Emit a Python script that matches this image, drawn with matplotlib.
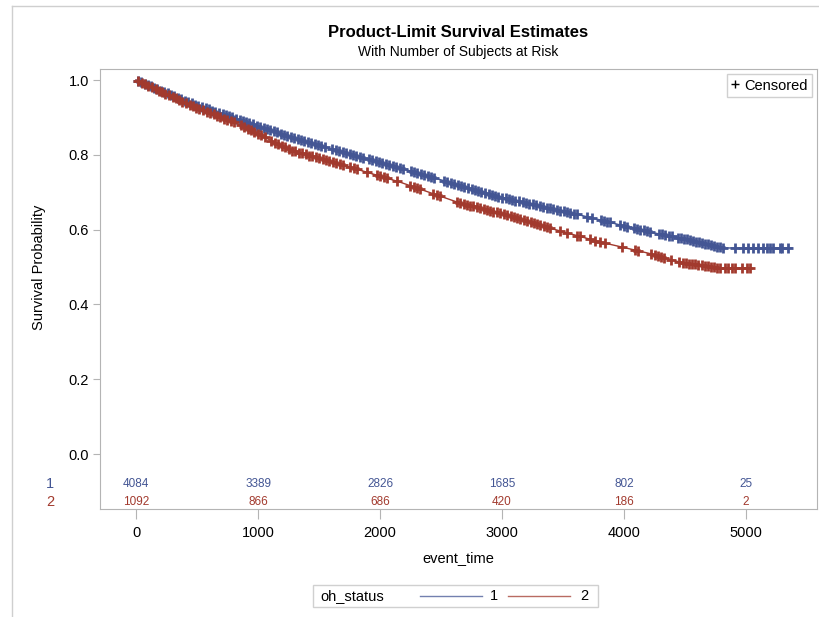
import numpy as np
import matplotlib
matplotlib.use("Agg")
import matplotlib.pyplot as plt
from matplotlib.lines import Line2D
from matplotlib.patches import Rectangle

plt.rcParams['font.family'] = ['Liberation Sans', 'DejaVu Sans']

# survival curve knots
blue_t = [0, 443, 852, 1262, 1754, 2164, 2574, 2984, 3311, 3639, 3803, 4000, 4250, 4459, 4811, 5377]
blue_s = [1.0, 0.939, 0.893, 0.848, 0.802, 0.765, 0.726, 0.687, 0.663, 0.639, 0.626, 0.610, 0.591, 0.578, 0.551, 0.551]
red_t = [0, 443, 852, 1262, 1754, 2164, 2656, 2984, 3393, 3803, 4200, 4459, 4787, 5033]
red_s = [1.0, 0.933, 0.880, 0.813, 0.767, 0.727, 0.671, 0.644, 0.604, 0.567, 0.537, 0.513, 0.497, 0.497]

# censoring times (approximate, read from the marks)
blue_cens = [
    15, 40, 70, 95, 120, 150, 175, 205, 230, 260, 290, 315, 345, 370, 400, 430, 455, 485, 510, 540,
    570, 595, 625, 650, 680, 710, 735, 765, 790, 820, 850, 875, 905, 930, 960, 990, 1015, 1045, 1070,
    1100, 1130, 1155, 1185, 1210, 1240, 1270, 1295, 1325, 1350, 1380, 1410, 1435, 1465, 1490, 1520,
    1545, 1610, 1640, 1665, 1695, 1720, 1750, 1780, 1805, 1835, 1860, 1910, 1935, 1965, 1990, 2020,
    2050, 2075, 2105, 2130, 2160, 2190, 2250, 2280, 2305, 2335, 2360, 2390, 2420, 2445, 2525, 2550,
    2580, 2610, 2635, 2665, 2690, 2720, 2750, 2775, 2805, 2830, 2860, 2890, 2915, 2945, 2970, 3000,
    3030, 3055, 3085, 3110, 3140, 3170, 3195, 3225, 3250, 3280, 3310, 3335, 3365, 3390, 3420, 3450,
    3475, 3505, 3530, 3560, 3590, 3615, 3700, 3740,
    3810, 3835, 3860, 3885, 3970, 4000, 4025, 4080, 4105, 4130, 4160, 4185, 4210, 4285, 4310, 4335,
    4365, 4390, 4445,
    4465, 4490, 4515, 4540, 4565, 4590, 4615, 4640, 4665, 4690, 4715, 4740, 4765, 4790, 4810,
    4910, 4975, 5016, 5057, 5098, 5139, 5172, 5197, 5221, 5279, 5295, 5344]
red_cens = [
    20, 45, 75, 100, 130, 160, 185, 215, 240, 270, 300, 325, 355, 380, 410, 440, 465, 495, 520, 550,
    580, 605, 635, 660, 690, 720, 745, 775, 800, 860, 885, 915, 940, 970, 1000, 1025, 1055, 1110,
    1140, 1165, 1195, 1220, 1250, 1280, 1305, 1335, 1360, 1390, 1420, 1445, 1475, 1500, 1530, 1560,
    1585, 1615, 1640, 1670, 1695,
    1755, 1785, 1810, 1893, 1975, 2000, 2030, 2057, 2139, 2246, 2275, 2300, 2328, 2434, 2465, 2492,
    2630, 2655, 2685, 2710, 2740, 2765, 2795, 2820, 2850, 2875, 2905, 2930, 2960, 2985, 3015, 3040,
    3070, 3095, 3125, 3150, 3180, 3205, 3235, 3260, 3290, 3315, 3345, 3370, 3395,
    3475, 3533, 3615, 3639, 3721, 3760, 3803,
    3845, 3985, 4090, 4115, 4225, 4250, 4275, 4300, 4330, 4385, 4450,
    4485, 4510, 4535, 4560, 4585, 4610, 4635, 4660, 4685, 4710, 4735, 4760, 4787,
    4828, 4852, 4885, 4910, 4967, 5008, 5033]

risk_times = [0, 1000, 2000, 3000, 4000, 5000]
risk_blue = [4084, 3389, 2826, 1685, 802, 25]
risk_red = [1092, 866, 686, 420, 186, 2]

blue = '#445694'
red = '#A23A2E'
frame = '#b4b4b4'

fig = plt.figure(figsize=(8.2, 6.17), dpi=100)
ax = fig.add_axes([0.122, 0.175, 0.8744, 0.7131])

ax.plot(blue_t, blue_s, color=blue, lw=1)
ax.plot(red_t, red_s, color=red, lw=1)
ax.plot(blue_cens, np.interp(blue_cens, blue_t, blue_s), ls='', marker='+', ms=7.5, mew=2.0, color=blue)
ax.plot(red_cens, np.interp(red_cens, red_t, red_s), ls='', marker='+', ms=7.5, mew=2.0, color=red)

ax.set_xlim(-295, 5582)
ax.set_ylim(-0.147, 1.0294)
ax.set_yticks([0, 0.2, 0.4, 0.6, 0.8, 1.0])
ax.set_yticklabels(['0.0', '0.2', '0.4', '0.6', '0.8', '1.0'])
ax.set_xticks(risk_times)
ax.tick_params(axis='y', length=5, color=frame, labelsize=10.5, pad=3)
ax.tick_params(axis='x', length=7, color=frame, labelsize=10.5, pad=5)
for sp in ax.spines.values():
    sp.set_color(frame)

# at-risk table
for t, nb, nr in zip(risk_times, risk_blue, risk_red):
    ax.text(t, -0.080, str(nb), color=blue, fontsize=8.5, ha='center', va='center')
    ax.text(t, -0.128, str(nr), color=red, fontsize=8.5, ha='center', va='center')
ax.text(-0.07, -0.080, '1', color=blue, fontsize=10.5, ha='center', va='center',
        transform=ax.get_yaxis_transform())
ax.text(-0.07, -0.128, '2', color=red, fontsize=10.5, ha='center', va='center',
        transform=ax.get_yaxis_transform())

ax.set_ylabel('Survival Probability', fontsize=10.5)
ax.yaxis.set_label_coords(-0.075, (0.5 + 0.147) / 1.1764)
ax.set_xlabel('event_time', fontsize=10.5, labelpad=8)

leg = ax.legend(handles=[Line2D([], [], marker='+', ls='', color='black', ms=6, mew=1)], labels=['Censored'],
                loc='upper right', fontsize=10.5, handlelength=0.5, handletextpad=0.4,
                borderpad=0.3, fancybox=False, framealpha=1, edgecolor='#d0d0d0',
                borderaxespad=0.35)

fig.text(0.559, 0.947, 'Product-Limit Survival Estimates', ha='center', va='center',
         fontsize=12, fontweight='bold')
fig.text(0.559, 0.916, 'With Number of Subjects at Risk', ha='center', va='center', fontsize=10)

# bottom legend
W, H = 820, 617
fig.add_artist(Rectangle((313 / W, 1 - 607 / H), 285 / W, 22 / H, transform=fig.transFigure,
                         fill=False, edgecolor='#d0d0d0', lw=1))
fig.text(320 / W, 1 - 596 / H, 'oh_status', fontsize=10.5, ha='left', va='center')
fig.add_artist(Line2D([420 / W, 482 / W], [1 - 596 / H] * 2, transform=fig.transFigure,
                      color=blue, lw=1, alpha=0.75))
fig.text(490 / W, 1 - 596 / H, '1', fontsize=10.5, ha='left', va='center')
fig.add_artist(Line2D([508 / W, 570 / W], [1 - 596 / H] * 2, transform=fig.transFigure,
                      color=red, lw=1, alpha=0.75))
fig.text(580 / W, 1 - 596 / H, '2', fontsize=10.5, ha='left', va='center')

# outer border
fig.add_artist(Line2D([12 / W, 1], [1 - 6 / H] * 2, transform=fig.transFigure, color='#cfcfcf', lw=1))
fig.add_artist(Line2D([12 / W] * 2, [0, 1 - 6 / H], transform=fig.transFigure, color='#cfcfcf', lw=1))

fig.savefig('out.png', dpi=100)
